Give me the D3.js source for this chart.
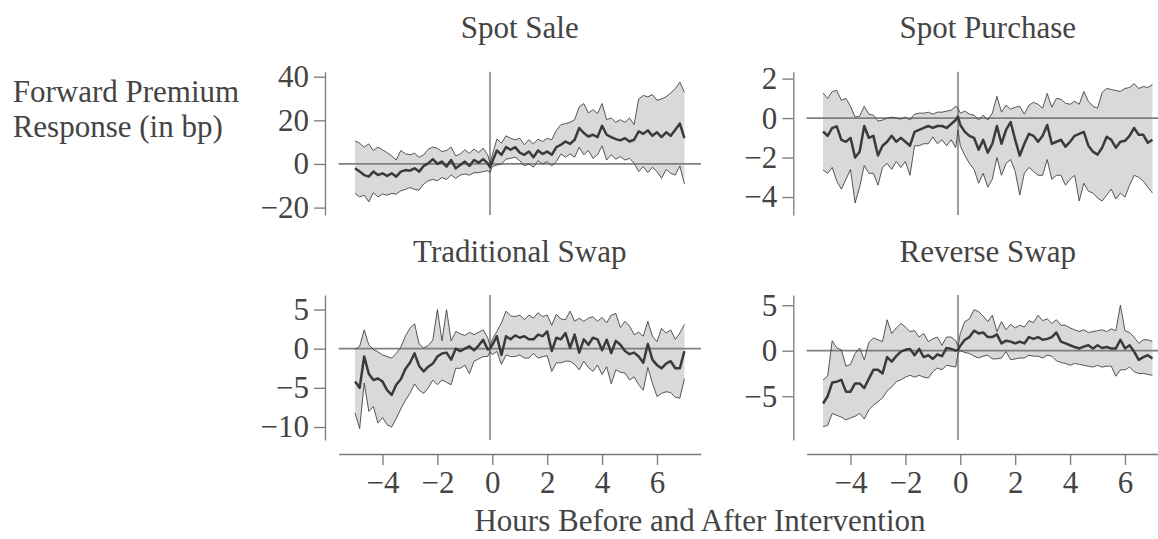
<!DOCTYPE html>
<html><head><meta charset="utf-8">
<script src="https://cdn.jsdelivr.net/npm/d3@7"></script>
<style>
body{margin:0;background:#fff}
text{font-family:"Liberation Serif","DejaVu Serif",serif;fill:#444}
</style>
</head><body>
<svg id="c" width="1158" height="539"></svg>
<script>
// hours relative to intervention (10-minute grid plus the reference point just before 0)
const hours = [...d3.range(0,30).map(k=>-5+k/6), -1/12, ...d3.range(30,73).map(k=>-5+k/6)];
const xTicks = [-4,-2,0,2,4,6];

const saleMean = [-2.0,-3.5,-5.1,-5.8,-3.5,-5.1,-4.3,-5.5,-4.3,-5.8,
 -3.5,-2.8,-3.1,-2.0,-3.5,-0.9,0.3,2.2,0,1.1,
 -1.2,1.8,-2.0,-0.5,1.1,-0.9,1.8,0.6,2.2,0.3,
 -1.5,
 1.1,6.2,4.2,7.7,6.5,7.7,5.2,4.2,5.7,3.1,
 6.2,4.6,5.7,4.2,7.7,8.8,10.3,9.2,11.1,16.5,
 14.2,12.6,13.4,12.3,17.5,13.4,12.3,11.4,10.8,11.8,
 10.3,11.1,14.9,13.8,15.4,12.9,14.5,12.3,14.5,12.9,
 15.7,18.5,11.8];
const saleUpper = [10.6,9.5,7.7,9.2,6.2,7.7,6.5,5.2,3.7,1.8,
 6.2,4.6,4.2,4.9,3.1,4.2,6.8,7.7,7.2,5.7,
 6.2,7.7,3.7,4.6,6.5,4.9,6.8,5.2,7.2,4.2,
 0.3,
 4.2,11.4,9.5,12.9,11.8,11.1,11.8,8.8,11.1,9.2,
 11.4,10.3,11.8,11.1,15.4,18.0,18.5,19.1,20.3,26.2,
 27.7,23.4,24.9,23.1,27.7,20.3,21.1,19.1,20.3,19.1,
 21.1,18.0,29.8,31.4,30.8,31.8,29.2,29.8,30.8,32.6,
 34.5,37.5,32.9];
const saleLower = [-13.5,-15.1,-14.3,-17.4,-13.2,-15.1,-13.8,-14.3,-13.5,-13.8,
 -12.3,-11.7,-10.8,-11.7,-12.0,-9.2,-7.7,-7.1,-7.7,-6.2,
 -7.1,-5.1,-6.6,-5.1,-4.6,-5.1,-4.0,-4.0,-3.5,-3.1,
 -4.0,
 -1.2,-0.5,0,2.2,2.6,3.1,1.5,-0.9,0,-1.5,
 1.5,0,1.1,-0.9,1.1,4.6,3.1,4.6,3.1,7.7,
 4.2,6.2,2.6,4.2,8.3,1.8,4.2,2.2,3.4,1.8,
 2.6,0.3,-3.5,-1.2,-4.0,-1.5,-3.5,-6.6,-2.5,-4.3,
 -5.1,-0.9,-9.2];

const purMean = [-0.68,-0.9,-0.5,-0.42,-1.1,-1.2,-1.0,-2.0,-1.7,-0.4,
 -1.0,-0.9,-1.9,-1.4,-1.2,-0.9,-1.2,-1.0,-1.2,-1.4,
 -0.7,-0.6,-0.5,-0.4,-0.5,-0.4,-0.4,-0.5,-0.3,-0.1,
 0.08,
 -0.35,-0.7,-0.9,-1.0,-1.6,-1.1,-1.75,-1.3,-0.4,-1.3,
 -0.6,-0.2,-1.1,-1.9,-1.3,-0.8,-0.9,-1.2,-0.9,-0.35,
 -1.3,-1.2,-1.1,-1.45,-1.2,-0.9,-0.8,-0.7,-1.4,-1.7,
 -1.85,-1.5,-0.95,-1.1,-1.5,-1.2,-1.15,-0.9,-0.5,-0.85,
 -0.85,-1.25,-1.1];
const purUpper = [1.27,1.0,1.35,1.4,0.9,1.0,0.6,0.05,0.1,0.6,
 0.2,0.15,-0.15,-0.1,0,0.05,0,-0.05,0.05,-0.1,
 0.2,0.25,0.25,0.3,0.2,0.3,0.3,0.35,0.4,0.6,
 0.5,
 0.25,0.35,0.2,0.15,-0.1,0.15,-0.1,0.25,1.1,0.3,
 0.65,0.45,0.55,0.6,0.2,0.65,0.8,0.7,0.5,1.25,
 0.55,1.0,0.95,0.75,0.7,0.85,0.7,1.35,0.85,0.6,
 0.5,1.3,1.5,1.45,1.4,1.35,1.5,1.55,1.75,1.5,
 1.6,1.55,1.7];
const purLower = [-2.63,-2.8,-2.5,-3.2,-3.6,-3.1,-2.6,-4.3,-3.5,-2.4,
 -2.8,-2.8,-3.4,-2.5,-2.3,-2.6,-2.2,-2.5,-2.2,-2.9,
 -1.4,-1.4,-1.3,-1.3,-0.95,-1.3,-1.1,-1.4,-1.1,-1.5,
 -0.6,
 -1.4,-1.9,-2.3,-2.6,-3.3,-2.8,-3.5,-3.1,-2.0,-2.9,
 -2.3,-2.1,-2.7,-3.9,-2.8,-2.5,-2.7,-2.9,-2.9,-2.1,
 -3.1,-2.9,-2.9,-3.4,-3.1,-2.9,-4.2,-3.3,-3.7,-3.8,
 -4.05,-4.2,-3.9,-3.6,-4.1,-3.8,-4.0,-3.4,-2.9,-3.0,
 -3.2,-3.5,-3.8];

const swapMean = [-4.2,-5.0,-1.0,-3.2,-4.0,-3.8,-4.2,-5.3,-5.9,-4.6,
 -3.9,-2.6,-1.8,-0.6,-2.2,-2.9,-2.3,-1.9,-1.0,-0.6,
 -0.5,-1.4,0,-0.3,0,0.3,-0.2,0.4,1.15,-0.1,
 0,
 0.5,1.6,-0.8,1.6,1.2,1.7,1.4,1.6,1.2,1.2,
 1.8,1.6,2.2,-0.3,1.4,1.2,2.0,0.1,1.8,-0.5,
 1.2,0.5,1.4,1.2,-0.2,1.15,-0.55,1.0,0.5,-0.3,
 -0.7,-0.5,-1.0,-1.8,0.6,-1.4,-2.1,-2.5,-1.9,-1.6,
 -2.5,-2.5,-0.3];
const swapUpper = [-0.1,0.3,2.4,0.5,-0.1,-0.4,-0.8,-1.0,-1.2,-0.6,
 0.2,1.6,2.6,3.2,0.6,0.1,0.4,1.1,5.0,1.0,
 5.0,1.0,2.2,1.9,1.7,2.1,1.8,2.1,2.4,1.4,
 0.3,
 1.2,2.2,3.3,4.8,4.2,4.1,4.3,3.7,4.3,3.9,
 4.6,4.1,4.3,3.0,4.4,3.8,3.7,4.8,3.5,3.9,
 3.5,3.9,4.1,3.5,4.0,3.3,4.3,4.5,2.7,3.5,
 2.9,1.8,2.1,1.6,3.5,1.6,0.9,2.6,2.0,2.4,
 1.2,2.0,3.1];
const swapLower = [-8.2,-10.2,-4.4,-8.0,-7.4,-9.5,-8.8,-9.7,-10.0,-8.9,
 -7.7,-6.6,-5.7,-4.5,-5.3,-5.7,-5.0,-4.0,-4.6,-4.0,
 -4.3,-4.6,-2.5,-2.5,-2.1,-3.2,-1.6,-1.3,-1.0,-1.0,
 -0.35,
 -0.75,-0.35,-2.0,-0.8,-1.0,-1.0,-0.8,-1.2,-1.2,-0.6,
 -1.2,-1.0,-0.9,-2.9,-1.8,-1.8,-1.6,-1.6,-2.0,-2.7,
 -1.6,-2.4,-2.9,-2.1,-3.3,-2.3,-4.5,-2.7,-3.0,-3.1,
 -4.0,-3.6,-4.6,-5.3,-2.4,-4.4,-6.1,-5.7,-5.5,-5.6,
 -6.2,-6.3,-3.8];

const revMean = [-5.8,-5.0,-3.5,-3.4,-3.2,-4.5,-4.5,-3.6,-3.6,-4.1,
 -3.1,-2.1,-2.1,-2.5,-0.7,-1.2,-0.6,-0.1,0.1,0.2,
 -0.5,0.2,-0.7,-0.5,-0.9,-0.4,-0.6,0.3,0.2,0,
 0.1,
 0.55,1.2,1.5,2.2,1.9,2.0,1.5,1.5,1.8,0.8,
 1.1,1.0,0.8,1.0,0.8,1.5,1.3,1.5,1.2,1.3,
 1.5,2.0,1.0,0.8,0.6,0.4,0.25,0.45,0.6,0.25,
 0.6,0.3,0.4,0.25,0.25,1.2,0.25,0.6,-0.1,-1.0,
 -0.7,-0.5,-0.85];
const revUpper = [-3.2,-2.8,1.1,0.3,0.1,-1.7,-1.5,-0.3,0.3,-1.0,
 0.9,1.4,1.2,1.0,3.4,1.9,2.5,3.0,2.6,2.1,
 2.2,1.5,1.9,1.0,1.3,1.5,0.6,1.5,1.5,1.1,
 0.45,
 1.9,3.2,3.5,4.5,4.3,3.8,3.2,3.9,2.1,3.2,
 2.3,2.9,2.5,2.8,2.6,3.3,3.1,3.9,3.3,3.5,
 3.0,3.4,2.8,2.8,2.5,2.3,2.1,2.3,2.0,2.1,
 2.2,2.3,2.1,2.4,2.2,5.0,2.2,2.0,1.5,0.8,
 1.2,1.2,1.0];
const revLower = [-8.35,-8.2,-6.9,-7.1,-7.3,-7.6,-7.4,-7.2,-6.9,-7.5,
 -6.5,-6.0,-5.6,-5.2,-4.4,-4.0,-3.4,-3.2,-2.9,-2.7,
 -2.9,-2.7,-2.9,-3.0,-2.3,-1.9,-2.1,-1.6,-1.7,-1.8,
 -0.3,
 0,-0.2,-0.3,-0.6,-0.8,-0.6,-0.5,-0.9,-0.9,-0.8,
 -0.1,-1.0,-0.9,-0.8,-0.8,-0.5,-0.6,-0.6,-0.8,-0.5,
 -0.6,-1.1,-1.3,-1.4,-1.6,-1.4,-1.5,-1.6,-1.7,-1.8,
 -1.6,-1.8,-1.7,-1.7,-2.8,-2.1,-2.1,-1.8,-2.3,-2.5,
 -2.5,-2.6,-2.7];

const titles = ["Spot Sale","Spot Purchase","Traditional Swap","Reverse Swap"];
const yTicksSale = [40,20,0,-20];
const yTicksPur = [2,0,-2,-4];
const yTicksSwap = [5,0,-5,-10];
const yTicksRev = [5,0,-5];

const panels = [
  {title:titles[0], mean:saleMean, upper:saleUpper, lower:saleLower, ticks:yTicksSale, col:0, row:0, dom:[-23.4,42.3]},
  {title:titles[1], mean:purMean, upper:purUpper, lower:purLower, ticks:yTicksPur, col:1, row:0, dom:[-4.91,2.35]},
  {title:titles[2], mean:swapMean, upper:swapUpper, lower:swapLower, ticks:yTicksSwap, col:0, row:1, dom:[-11.66,6.86]},
  {title:titles[3], mean:revMean, upper:revUpper, lower:revLower, ticks:yTicksRev, col:1, row:1, dom:[-9.81,6.12]}
];

const colX = [[338.6,700.9],[806.6,1168.9]];
const axisXpos = [325,793.3];
const rowY = [[71.7,215],[295,440]];
const FS = 31;
const fmt = d => d<0 ? "\u2212"+Math.abs(d) : String(d);

const svg = d3.select("#c");

panels.forEach(p=>{
  const x = d3.scaleLinear().domain([-5.6,7.6]).range(colX[p.col]);
  const y = d3.scaleLinear().domain(p.dom).range([rowY[p.row][1], rowY[p.row][0]]);
  const g = svg.append("g");
  const pts = hours.map((h,i)=>({h, m:p.mean[i], u:p.upper[i], l:p.lower[i]}));

  g.append("path").datum(pts)
    .attr("d", d3.area().x(d=>x(d.h)).y0(d=>y(d.l)).y1(d=>y(d.u)))
    .attr("fill","#d9d9d9").attr("stroke","none");

  // reference lines
  g.append("line").attr("x1",x.range()[0]).attr("x2",x.range()[1])
    .attr("y1",y(0)).attr("y2",y(0)).attr("stroke","#7f7f7f").attr("stroke-width",1.7);
  g.append("line").attr("x1",x(-1/12)).attr("x2",x(-1/12))
    .attr("y1",y.range()[1]).attr("y2",y.range()[0]).attr("stroke","#6a6a6a").attr("stroke-width",1.3);

  ["u","l"].forEach(k=>{
    g.append("path").datum(pts)
      .attr("d", d3.line().x(d=>x(d.h)).y(d=>y(d[k])))
      .attr("fill","none").attr("stroke","#444").attr("stroke-width",0.9);
  });
  g.append("path").datum(pts)
    .attr("d", d3.line().x(d=>x(d.h)).y(d=>y(d.m)))
    .attr("fill","none").attr("stroke","#3a3a3a").attr("stroke-width",2.5).attr("stroke-linejoin","round");

  // y axis
  const ya = g.append("g").attr("transform",`translate(${axisXpos[p.col]},0)`)
    .call(d3.axisLeft(y).tickValues(p.ticks).tickFormat(fmt).tickSize(11).tickSizeOuter(0).tickPadding(5));
  ya.select(".domain").attr("stroke","#7a7a7a").attr("stroke-width",1.3);
  ya.selectAll(".tick line").attr("stroke","#7a7a7a").attr("stroke-width",1.3);
  ya.selectAll("text").attr("font-size",FS).attr("font-family",null).attr("fill","#444");

  // x axis for bottom row
  if(p.row===1){
    const xa = g.append("g").attr("transform","translate(0,454)")
      .call(d3.axisBottom(x).tickValues(xTicks).tickFormat(fmt).tickSize(11).tickSizeOuter(0).tickPadding(6));
    xa.select(".domain").attr("stroke","#7a7a7a").attr("stroke-width",1.3);
    xa.selectAll(".tick line").attr("stroke","#7a7a7a").attr("stroke-width",1.3);
    xa.selectAll("text").attr("font-size",FS).attr("font-family",null).attr("fill","#444");
  }

  g.append("text").attr("x",(x.range()[0]+x.range()[1])/2).attr("y",rowY[p.row][0]-33.4)
    .attr("text-anchor","middle").attr("font-size",FS).text(p.title);
});

svg.append("text").attr("x",12.7).attr("y",101.7).attr("font-size",FS).text("Forward Premium");
svg.append("text").attr("x",12.7).attr("y",136.7).attr("font-size",FS).text("Response (in bp)");
svg.append("text").attr("x",700).attr("y",531).attr("text-anchor","middle").attr("font-size",FS)
  .text("Hours Before and After Intervention");
</script>
</body></html>
